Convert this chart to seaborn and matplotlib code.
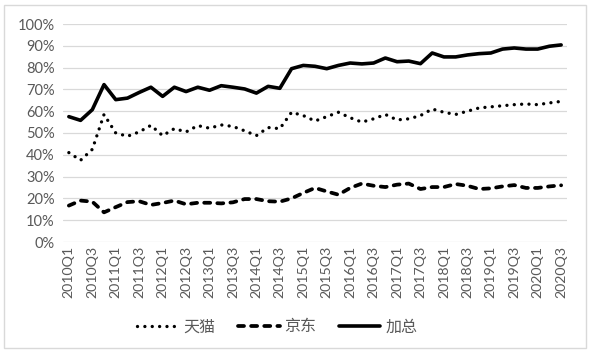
import numpy as np
import pandas as pd
import matplotlib
matplotlib.use("Agg")
import matplotlib.pyplot as plt
from matplotlib.patches import Rectangle
from matplotlib.lines import Line2D
import seaborn as sns

quarters = [f"{y}Q{q}" for y in range(2010, 2021) for q in range(1, 5)][:43]

tmall = [41, 37.5, 42.5, 58.5, 50, 48.5, 50.5, 53.5, 48.8, 52, 50.5, 53.4, 52.2, 53.7,
         53, 51, 48.8, 52.5, 52, 59.5, 58, 55.5, 57.5, 59.5, 57, 55, 56.5, 58.5, 56,
         56.5, 58, 61, 59.5, 58.5, 60, 61.5, 62, 62.5, 63, 63.3, 63, 63.8, 64.5]
jd = [16.7, 19, 18.5, 13.6, 16, 18.3, 18.7, 17, 17.9, 19, 17.3, 18, 18, 17.7, 18.2,
      19.7, 19.7, 18.7, 18.5, 20, 22.5, 24.8, 23.2, 21.7, 24.8, 26.8, 25.8, 25.2,
      26.3, 26.8, 24.3, 25.2, 25.2, 26.6, 25.8, 24.3, 24.6, 25.5, 26.1, 24.8, 24.8,
      25.5, 26]
total = [57.5, 55.8, 60.7, 72.2, 65.3, 66, 68.6, 71, 66.8, 71, 69, 71, 69.6, 71.7, 71,
         70.2, 68.3, 71.4, 70.5, 79.5, 81, 80.6, 79.5, 81, 82.1, 81.7, 82.1, 84.4, 82.7,
         83, 81.8, 86.7, 84.9, 84.9, 85.8, 86.4, 86.7, 88.5, 89, 88.5, 88.5, 89.8, 90.4]

series_names = ["天猫", "京东", "加总"]

sns.set_theme(style="white")
plt.rcParams["font.family"] = ["Lato", "Noto Sans CJK SC", "DejaVu Sans"]

fig = plt.figure(figsize=(5.9, 3.56), dpi=100)
ax = fig.add_axes([63/590, 1-242/356, (567-63)/590, (242-24)/356])

x = np.arange(len(quarters))
styles = {
    "天猫": dict(lw=2.4, dashes=(0.01, 2.2)),
    "京东": dict(lw=2.7, dashes=(1.6, 1.9)),
    "加总": dict(lw=2.6, dashes=None),
}
handles = []
for name, vals in zip(series_names, [tmall, jd, total]):
    df = pd.DataFrame({"x": x, "y": np.array(vals) / 100})
    sns.lineplot(data=df, x="x", y="y", ax=ax, color="black", lw=styles[name]["lw"])
    line = ax.lines[-1]
    if styles[name]["dashes"] is not None:
        line.set_dashes(styles[name]["dashes"])
        line.set_dash_capstyle("round")
    else:
        line.set_solid_capstyle("round")
    line.set_solid_joinstyle("round")
    h = Line2D([0], [0], color="black", lw=styles[name]["lw"])
    if styles[name]["dashes"] is not None:
        h.set_dashes(styles[name]["dashes"])
        h.set_dash_capstyle("round")
    handles.append(h)

ax.set_xlim(-0.5, len(quarters) - 0.5)
ax.set_ylim(0, 1)
ax.set_yticks(np.arange(0, 1.01, 0.1))
ax.set_yticklabels([f"{int(round(v*100))}%" for v in np.arange(0, 1.01, 0.1)],
                   fontsize=10.5, color="#595959")
ax.set_xticks(x[::2])
ax.set_xticklabels(quarters[::2], rotation=90, fontsize=10.2, color="#595959")
ax.tick_params(axis="both", length=0, pad=3)
ax.tick_params(axis="y", pad=6)
ax.grid(axis="y", color="#D9D9D9", lw=0.9)
ax.set_axisbelow(True)
for s in ax.spines.values():
    s.set_visible(False)
ax.set_xlabel("")
ax.set_ylabel("")

fig.legend(handles, series_names, loc="center", bbox_to_anchor=(0.47, 1-327/356),
           ncol=3, frameon=False, handlelength=2.6, handletextpad=0.3,
           columnspacing=1.4, prop={"size": 11.5}, labelcolor="#595959")

fig.patches.append(Rectangle((4/590, 1-348/356), 582/590, 343/356,
                             transform=fig.transFigure, fill=False,
                             edgecolor="#D9D9D9", lw=1))

fig.savefig("out.png", dpi=100)
